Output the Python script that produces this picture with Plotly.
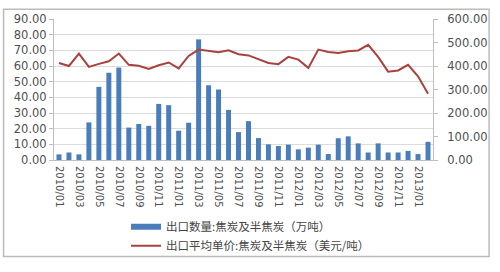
import plotly.graph_objects as go

months = [f"{y}/{m:02d}" for y in (2010, 2011, 2012) for m in range(1, 13)] + ["2013/01", "2013/02"]
volume = [3.6, 4.8, 3.6, 24.0, 46.7, 55.7, 59.0, 20.7, 23.0, 21.8, 35.8, 35.0,
          18.7, 23.8, 77.0, 47.7, 45.0, 32.0, 17.8, 24.8, 14.0, 10.0, 8.9, 9.8,
          6.8, 7.9, 9.8, 3.8, 13.9, 15.1, 10.6, 4.8, 10.6, 4.8, 4.8, 5.8,
          3.8, 11.6]
price = [413, 400, 453, 396, 409, 420, 453, 405, 401, 387, 403, 415,
         390, 443, 470, 463, 459, 467, 450, 445, 429, 413, 408, 439,
         427, 392, 470, 460, 455, 463, 466, 490, 439, 376, 381, 405,
         356, 282]
tick_labels = months[::2]
name_vol = "出口数量:焦炭及半焦炭（万吨）"
name_price = "出口平均单价:焦炭及半焦炭（美元/吨）"

BLUE = "#4A7EBB"
RED = "#A8423F"

fig = go.Figure()
fig.add_trace(go.Bar(x=months, y=volume, marker_color=BLUE, marker_line_width=0,
                     showlegend=False, yaxis="y"))
fig.add_trace(go.Scatter(x=[None], y=[None], mode="lines", name=name_vol,
                         line=dict(color=BLUE, width=6)))
fig.add_trace(go.Scatter(x=months, y=price, mode="lines", name=name_price,
                         line=dict(color=RED, width=2), yaxis="y2"))

tickfont = dict(family="DejaVu Sans", size=11.5, color="#505050")
fig.update_layout(
    width=500, height=272,
    margin=dict(l=54, r=62, t=14, b=109),
    paper_bgcolor="white", plot_bgcolor="white",
    bargap=0.5,
    showlegend=True,
    legend=dict(x=0.19, y=-0.37, xanchor="left", yanchor="top",
                font=dict(family="Noto Sans CJK SC", size=11.5, color="#444444"),
                bgcolor="rgba(0,0,0,0)", tracegroupgap=0, itemwidth=30),
    xaxis=dict(type="category", categoryorder="array", categoryarray=months,
               tickvals=tick_labels, ticktext=tick_labels, tickangle=90,
               tickfont=dict(family="DejaVu Sans", size=10, color="#505050"),
               showline=True, linecolor="#BFBFBF", linewidth=1,
               showgrid=False, ticks="", ticklabelstandoff=3,
               range=[-0.5, len(months) - 0.5]),
    yaxis=dict(range=[0, 90], dtick=10, tickformat=".2f", tickfont=tickfont,
               showgrid=True, gridcolor="#DCDCDC", gridwidth=1,
               showline=True, linecolor="#BFBFBF", ticks="outside",
               ticklen=4, tickcolor="#BFBFBF", zeroline=False),
    yaxis2=dict(range=[0, 600], dtick=100, tickformat=".2f", tickfont=tickfont,
                overlaying="y", side="right", showgrid=False,
                showline=True, linecolor="#BFBFBF", ticks="outside",
                ticklen=4, tickcolor="#BFBFBF", zeroline=False,
                ticklabelstandoff=7),
    shapes=[dict(type="rect", xref="paper", yref="paper",
                 x0=-0.133, x1=1.148, y0=-0.685, y1=1.07,
                 line=dict(color="#BBBBBB", width=1.5), fillcolor="rgba(0,0,0,0)",
                 layer="below")],
)

fig.write_html("out.html")
